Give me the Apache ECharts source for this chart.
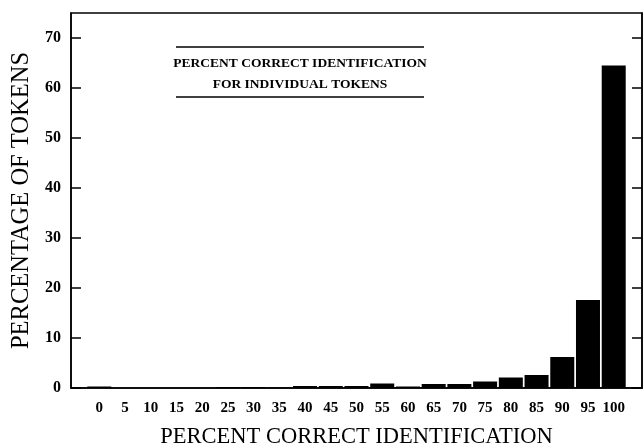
<!DOCTYPE html>
<html>
<head>
<meta charset="utf-8">
<script src="https://cdn.jsdelivr.net/npm/echarts@6/dist/echarts.min.js"></script>
<style>
  html, body { margin: 0; padding: 0; background: #fff; }
  #chart { width: 644px; height: 446px; }
</style>
</head>
<body>
<div id="chart"></div>
<script>
// percent correct bins (x axis) and percentage of tokens in each bin
var categories = [0, 5, 10, 15, 20, 25, 30, 35, 40, 45, 50, 55, 60, 65, 70, 75, 80, 85, 90, 95, 100];
var values = [0.3, 0, 0, 0, 0, 0.2, 0.2, 0.1, 0.4, 0.4, 0.4, 0.9, 0.3, 0.8, 0.8, 1.3, 2.1, 2.6, 6.2, 17.6, 64.5];
var yTicks = [0, 10, 20, 30, 40, 50, 60, 70];

var serif = '"Liberation Serif", "DejaVu Serif", serif';

var chart = echarts.init(document.getElementById('chart'));

var seriesData = categories.map(function (c, i) { return [c, values[i]]; });

var option = {
  animation: false,
  backgroundColor: '#fff',
  title: {
    text: 'PERCENT CORRECT IDENTIFICATION\nFOR INDIVIDUAL TOKENS',
    left: 300,
    top: 53,
    padding: 0,
    textAlign: 'center',
    textStyle: {
      fontFamily: serif,
      fontWeight: 'bold',
      fontSize: 13.5,
      lineHeight: 21,
      color: '#000'
    }
  },
  graphic: [
    { type: 'line', shape: { x1: 176, y1: 47, x2: 424, y2: 47 }, style: { stroke: '#000', lineWidth: 1.5 } },
    { type: 'line', shape: { x1: 176, y1: 97, x2: 424, y2: 97 }, style: { stroke: '#000', lineWidth: 1.5 } }
  ],
  grid: {
    left: 71,
    right: 2,
    top: 13,
    bottom: 58,
    outerBoundsMode: 'none',
    containLabel: false,
    show: true,
    borderColor: '#000',
    borderWidth: 1.5,
    backgroundColor: 'transparent'
  },
  xAxis: {
    type: 'value',
    min: -5.5,
    max: 105.5,
    name: 'PERCENT CORRECT IDENTIFICATION',
    nameLocation: 'middle',
    nameGap: 38,
    nameTextStyle: { fontFamily: serif, fontSize: 22.5, color: '#000' },
    axisLine: { show: true, onZero: false, lineStyle: { color: '#000', width: 1.5 } },
    axisTick: { show: false },
    splitLine: { show: false },
    axisLabel: {
      customValues: categories,
      margin: 13,
      fontFamily: serif,
      fontWeight: 'bold',
      fontSize: 15,
      color: '#000'
    }
  },
  yAxis: [{
    type: 'value',
    min: 0,
    max: 75,
    name: 'PERCENTAGE OF TOKENS',
    nameLocation: 'middle',
    nameGap: 36,
    nameTextStyle: { fontFamily: serif, fontSize: 24.5, color: '#000' },
    axisLine: { show: true, onZero: false, lineStyle: { color: '#000', width: 1.5 } },
    axisTick: { show: true, inside: true, length: 10, customValues: yTicks, lineStyle: { color: '#000', width: 1.5 } },
    splitLine: { show: false },
    axisLabel: {
      customValues: yTicks,
      margin: 10,
      fontFamily: serif,
      fontWeight: 'bold',
      fontSize: 16,
      color: '#000'
    }
  }, {
    type: 'value',
    position: 'right',
    min: 0,
    max: 75,
    axisLine: { show: true, onZero: false, lineStyle: { color: '#000', width: 1.5 } },
    axisTick: { show: true, inside: true, length: 10, customValues: yTicks, lineStyle: { color: '#000', width: 1.5 } },
    splitLine: { show: false },
    axisLabel: { show: false }
  }],
  series: [{
    type: 'bar',
    data: seriesData,
    barWidth: 24,
    itemStyle: { color: '#000' }
  }]
};

chart.setOption(option);
</script>
</body>
</html>
